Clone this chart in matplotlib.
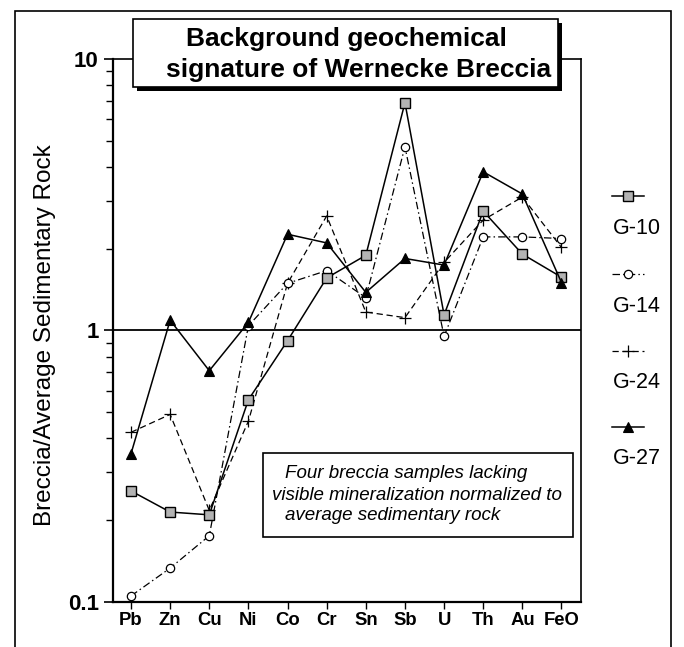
import matplotlib
matplotlib.use("Agg")
import matplotlib.pyplot as plt
from matplotlib.patches import Rectangle
from matplotlib.lines import Line2D
from matplotlib.ticker import LogLocator, NullFormatter, FixedLocator, FixedFormatter

plt.rcParams['font.family'] = ['Liberation Sans', 'DejaVu Sans']

elements = ["Pb", "Zn", "Cu", "Ni", "Co", "Cr", "Sn", "Sb", "U", "Th", "Au", "FeO"]
g10 = [0.256, 0.214, 0.209, 0.555, 0.916, 1.56, 1.89, 6.90, 1.14, 2.75, 1.91, 1.57]
g14 = [0.105, 0.133, 0.175, 1.04, 1.49, 1.66, 1.32, 4.75, 0.95, 2.21, 2.21, 2.18]
g24 = [0.421, 0.49, 0.217, 0.463, 1.49, 2.64, 1.168, 1.114, 1.78, 2.55, 3.10, 2.02]
g27 = [0.351, 1.09, 0.71, 1.07, 2.26, 2.10, 1.38, 1.84, 1.74, 3.84, 3.18, 1.50]
series_names = ["G-10", "G-14", "G-24", "G-27"]
ytick_vals = [0.1, 1, 10]
ytick_labels = ["0.1", "1", "10"]
title_lines = ["Background geochemical", "signature of Wernecke Breccia"]
note_lines = ["Four breccia samples lacking",
              "visible mineralization normalized to",
              "average sedimentary rock"]

W, H = 684, 647
DPI = 100
fig = plt.figure(figsize=(W / DPI, H / DPI), dpi=DPI)

def fx(px):
    return px / W

def fy(py):
    return 1 - py / H

ax_l, ax_r, ax_t, ax_b = 112.7, 580.5, 59.0, 601.7
ax = fig.add_axes([fx(ax_l), fy(ax_b), fx(ax_r) - fx(ax_l), fy(ax_t) - fy(ax_b)])

styles = {
    "G-10": dict(color="black", lw=1.1, ls="-", marker="s", ms=7, mfc="#b3b3b3", mec="black", mew=1.0),
    "G-14": dict(color="black", lw=0.9, ls=(0, (6, 2.5, 1.2, 2.5)), marker="o", ms=6, mfc="white", mec="black", mew=0.9),
    "G-24": dict(color="black", lw=0.9, ls=(0, (5, 3)), marker="+", ms=8, mec="black", mew=0.9),
    "G-27": dict(color="black", lw=1.1, ls="-", marker="^", ms=7.5, mfc="black", mec="black", mew=0.8),
}
data = {"G-10": g10, "G-14": g14, "G-24": g24, "G-27": g27}
x = list(range(len(elements)))
for name in ["G-24", "G-14", "G-10", "G-27"]:
    ax.plot(x, data[name], zorder=3, **styles[name])

ax.axhline(1, color="black", lw=1.3, zorder=2)

ax.set_yscale("log")
ax.set_ylim(0.1, 10)
ax.set_xlim(-0.468, 11.486)
ax.yaxis.set_major_locator(FixedLocator(ytick_vals))
ax.yaxis.set_major_formatter(FixedFormatter(ytick_labels))
ax.yaxis.set_minor_locator(LogLocator(base=10, subs=range(2, 10)))
ax.yaxis.set_minor_formatter(NullFormatter())
ax.set_xticks(x)
ax.set_xticklabels(elements)
ax.tick_params(axis="y", which="major", direction="out", length=6.5, width=1.2, pad=3.5,
               labelsize=16)
ax.tick_params(axis="y", which="minor", direction="out", length=5, width=1.0)
ax.tick_params(axis="x", which="major", direction="out", length=5, width=1.0, pad=2.5,
               labelsize=13.3)
for lab in ax.get_yticklabels() + ax.get_xticklabels():
    lab.set_fontweight("bold")
ax.spines["left"].set_linewidth(1.6)
ax.spines["bottom"].set_linewidth(1.6)
ax.spines["right"].set_linewidth(1.2)
ax.spines["top"].set_linewidth(1.2)

fig.text(fx(45), fy(335), "Breccia/Average Sedimentary Rock", rotation=90,
         ha="center", va="center", fontsize=17.5)

# outer frame
fig.add_artist(Rectangle((fx(15), fy(660)), fx(671) - fx(15), fy(11) - fy(660),
                         transform=fig.transFigure, fill=False, lw=1.2, ec="black"))

# title box with shadow
bx0, bx1, by0, by1 = 133, 558, 19, 87
fig.add_artist(Rectangle((fx(bx0 + 4), fy(by1 + 4)), fx(bx1) - fx(bx0), fy(by0) - fy(by1),
                         transform=fig.transFigure, fc="black", ec="black", lw=0, zorder=5))
fig.add_artist(Rectangle((fx(bx0), fy(by1)), fx(bx1) - fx(bx0), fy(by0) - fy(by1),
                         transform=fig.transFigure, fc="white", ec="black", lw=1.2, zorder=6))
fig.text(fx(346.5), fy(46), title_lines[0], ha="center", va="baseline",
         fontsize=19, fontweight="bold", zorder=7)
fig.text(fx(359), fy(77.5), title_lines[1], ha="center", va="baseline",
         fontsize=19, fontweight="bold", zorder=7)

# note box
nx0, nx1, ny0, ny1 = 262.7, 572.7, 453, 536.7
fig.add_artist(Rectangle((fx(nx0), fy(ny1)), fx(nx1) - fx(nx0), fy(ny0) - fy(ny1),
                         transform=fig.transFigure, fc="white", ec="black", lw=1.2, zorder=6))
note_x = [406.5, 416.5, 393]
note_y = [474, 496, 516]
for t, xx, yy in zip(note_lines, note_x, note_y):
    fig.text(fx(xx), fy(yy), t, ha="center", va="center", fontsize=13.5,
             style="italic", zorder=7)

# manual legend
leg_line_y = [196, 274, 351, 427]
leg_text_y = [228, 307, 383, 459]
for name, ly, ty in zip(series_names, leg_line_y, leg_text_y):
    st = dict(styles[name])
    ln = Line2D([fx(612), fx(628), fx(644)], [fy(ly)] * 3, transform=fig.transFigure,
                markevery=[1], **st)
    fig.add_artist(ln)
    fig.text(fx(613), fy(ty), name, ha="left", va="center", fontsize=15.5)

fig.savefig("out.png", dpi=DPI)
